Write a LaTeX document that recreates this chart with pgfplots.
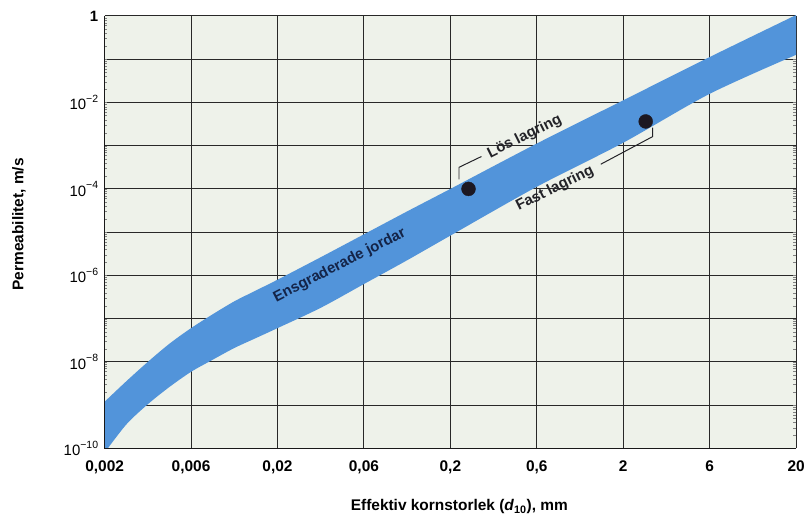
\documentclass[border=0pt]{standalone}
\usepackage{pgfplots}
\pgfplotsset{compat=1.18}
\usepgfplotslibrary{fillbetween}
\usepackage{fontspec}
\setmainfont{Liberation Sans}
\definecolor{bandblue}{RGB}{82,148,218}
\definecolor{plotbg}{RGB}{238,242,234}
\definecolor{gridc}{RGB}{40,40,40}
\definecolor{dotc}{RGB}{28,24,34}
\definecolor{navy}{RGB}{20,36,72}
\definecolor{anno}{RGB}{35,35,40}
\newcommand{\tp}[1]{10\raisebox{0.5em}{\fontsize{10.5}{12}\selectfont −#1}}
\begin{document}
\begin{tikzpicture}
\path (-105pt,-68pt) rectangle (703pt,450pt);
\begin{axis}[
  at={(0,0)}, anchor=south west,
  width=694pt, height=434pt, scale only axis,
  xmin=0, xmax=8, ymode=log, ymin=1e-10, ymax=1,
  clip mode=individual,
  axis background/.style={fill=plotbg},
  axis line style={draw=none},
  major tick length=0pt,
  grid=major,
  grid style={gridc, line width=0.9pt},
  xtick={0,1,2,3,4,5,6,7,8},
  xticklabels={{0,002},{0,006},{0,02},{0,06},{0,2},{0,6},{2},{6},{20}},
  xticklabel style={font=\fontsize{15.5}{18}\selectfont\bfseries, yshift=-9pt},
  ytick={1e-10,1e-9,1e-8,1e-7,1e-6,1e-5,1e-4,1e-3,1e-2,1e-1,1},
  yticklabels={{\tp{10}},{},{\tp{8}},{},{\tp{6}},{},{\tp{4}},{},{\tp{2}},{},{\textbf{1}}},
  yticklabel style={font=\fontsize{15}{17}\selectfont, xshift=-3pt},
  xlabel={Effektiv kornstorlek (\textit{d}\textsubscript{10}), mm},
  xlabel style={font=\fontsize{15.5}{18}\selectfont\bfseries, at={(axis description cs:0.513,-0.135)}, anchor=center},
  ylabel={Permeabilitet, m/s},
  ylabel style={font=\fontsize{15.5}{18}\selectfont\bfseries, at={(axis description cs:-0.124,0.518)}, anchor=center},
]
% band of uniformly graded soils (upper and lower edges)
\addplot[name path=up, draw=none, smooth] coordinates {
  (0,1.20e-9) (0.25,3.55e-9) (0.5,1.0e-8) (0.75,2.63e-8) (1,6.03e-8)
  (1.25,1.26e-7) (1.5,2.51e-7) (1.75,4.47e-7) (2,7.94e-7) (2.5,2.63e-6)
  (3,8.91e-6) (3.5,3.02e-5) (4,1.0e-4) (5,1.12e-3) (6,1.12e-2) (7,0.112) (8,1.05)};
\addplot[name path=lo, draw=none, smooth] coordinates {
  (0,7.94e-11) (0.25,3.55e-10) (0.5,1.05e-9) (0.75,2.63e-9) (1,5.89e-9)
  (1.25,1.12e-8) (1.5,2.09e-8) (1.75,3.55e-8) (2,6.03e-8) (2.5,1.78e-7)
  (3,6.31e-7) (3.5,2.24e-6) (4,8.32e-6) (5,1.12e-4) (6,1.17e-3) (7,1.58e-2) (8,0.126)};
\addplot[bandblue, draw=none] fill between[of=up and lo];
% points
\addplot[only marks, mark=*, mark size=7pt, color=dotc] coordinates {(4.21,1.0e-4) (6.26,3.63e-3)};
% leaders
\draw[anno, line width=1pt] (axis cs:4.10,1.66e-4) -- (axis cs:4.10,3.16e-4) -- (axis cs:4.36,5.62e-4);
\draw[anno, line width=1pt] (axis cs:6.34,2.63e-3) -- (axis cs:6.34,1.62e-3) -- (axis cs:5.74,3.72e-4);
\node[anno, rotate=26.5, font=\fontsize{15}{18}\selectfont\bfseries] at (axis cs:4.86,1.62e-3) {Lös lagring};
\node[anno, rotate=26.5, font=\fontsize{15}{18}\selectfont\bfseries] at (axis cs:5.21,1.02e-4) {Fast lagring};
\node[navy, rotate=27, font=\fontsize{15}{18}\selectfont\bfseries] at (axis cs:2.72,1.70e-6) {Ensgraderade jordar};
% frame: thick left and bottom
\draw[black!90, line width=1.7pt] (rel axis cs:0,1) -- (rel axis cs:0,0) -- (rel axis cs:1,0);
\end{axis}
\end{tikzpicture}
\end{document}
